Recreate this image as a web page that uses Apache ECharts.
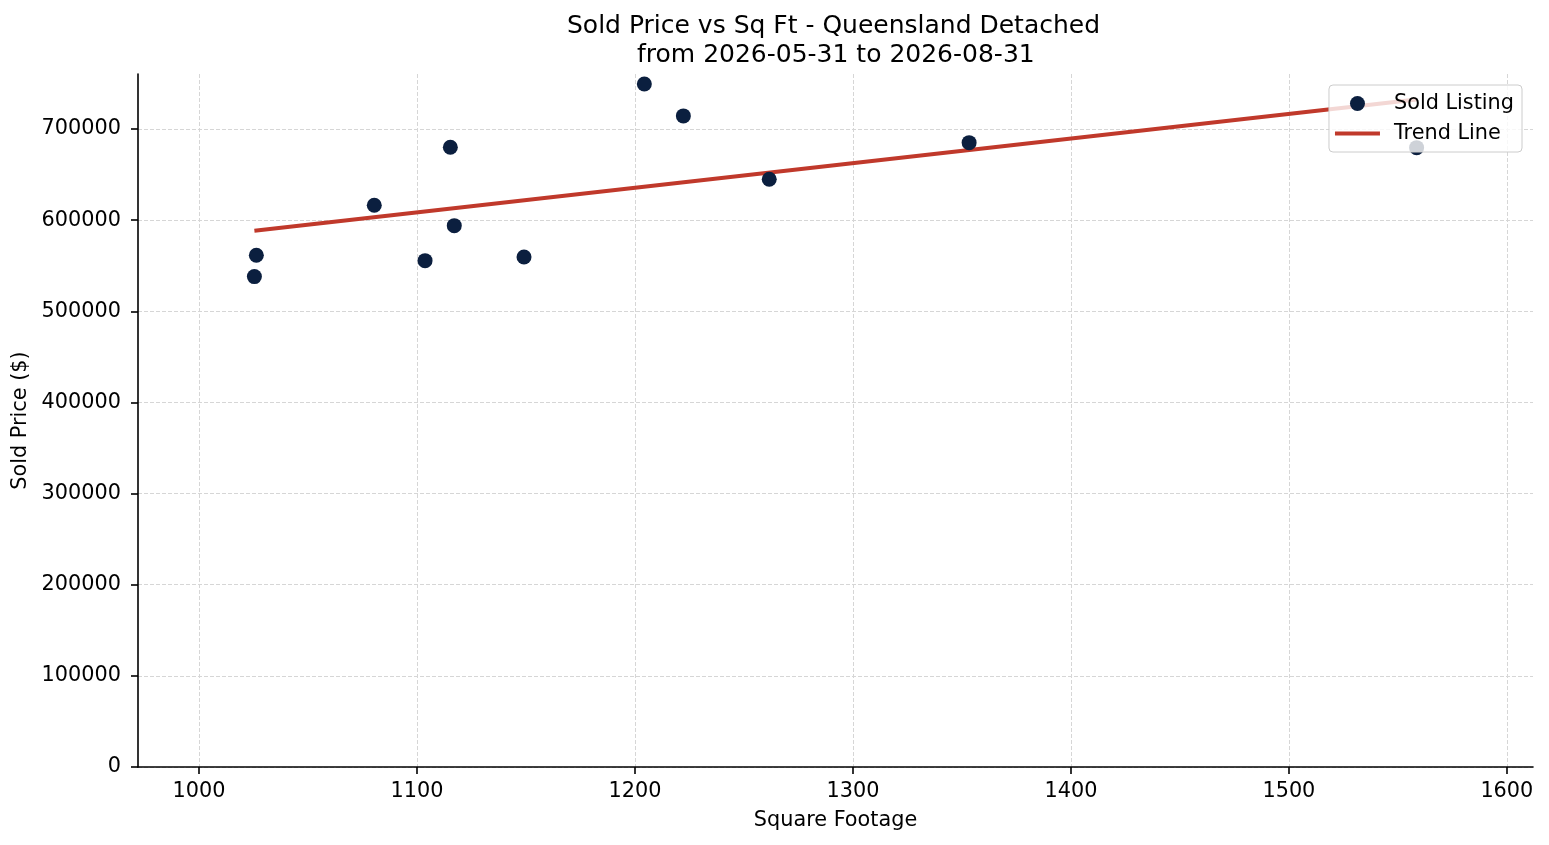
<!DOCTYPE html>
<html>
<head>
<meta charset="utf-8">
<script src="https://cdn.jsdelivr.net/npm/echarts@6/dist/echarts.min.js"></script>
<style>
html,body{margin:0;padding:0;background:#fff;}
#chart{width:1549px;height:845px;}
</style>
</head>
<body>
<div id="chart"></div>
<script>
// ---- data ----
const sqft  = [1025.4, 1026.3, 1080.4, 1103.7, 1115.3, 1117.1, 1149.1, 1204.3, 1222.2, 1261.6, 1353.3, 1558.6];
const price = [538000, 561400, 616300, 555500, 679900, 593900, 559600, 749400, 714300, 644800, 685000, 679500];
const trendX = [1025.4, 1558.6];
const trendY = [588400, 732400];
const xTicks = [1000, 1100, 1200, 1300, 1400, 1500, 1600];
const yTicks = [0, 100000, 200000, 300000, 400000, 500000, 600000, 700000];
const titleLine1 = 'Sold Price vs Sq Ft - Queensland Detached';
const titleLine2 = 'from 2026-05-31 to 2026-08-31';

const FONT = 'DejaVu Sans';
const scatterData = sqft.map((x, i) => [x, price[i]]);
const trendData = trendX.map((x, i) => [x, trendY[i]]);
const plain = v => String(v);
const titleStyle = {fontFamily: FONT, fontSize: 25, fontWeight: 'normal', color: '#000', lineHeight: 29};

const chart = echarts.init(document.getElementById('chart'), null, {renderer: 'canvas'});
chart.setOption({
  animation: false,
  backgroundColor: '#ffffff',
  textStyle: {fontFamily: FONT},
  title: [
    {text: titleLine1, left: 567, top: 12, padding: 0, textStyle: titleStyle},
    {text: titleLine2, left: 637, top: 41, padding: 0, textStyle: titleStyle}
  ],
  grid: {left: 138, right: 16, top: 74, bottom: 78, containLabel: false, outerBoundsMode: 'none'},
  legend: {
    orient: 'vertical',
    right: 27,
    top: 85,
    padding: [8, 8, 8, 6],
    itemGap: 9,
    itemWidth: 45,
    itemHeight: 15,
    backgroundColor: 'rgba(255,255,255,0.8)',
    borderColor: '#cccccc',
    borderWidth: 1,
    borderRadius: 4,
    textStyle: {fontFamily: FONT, fontSize: 20.8, color: '#000', padding: [0, 0, 0, 9]},
    data: [
      {name: 'Sold Listing', icon: 'circle'},
      {name: 'Trend Line', icon: 'path://M0,0 L45,0 L45,4 L0,4 Z'}
    ]
  },
  xAxis: {
    type: 'value',
    min: 972,
    max: 1612,
    name: 'Square Footage',
    nameLocation: 'middle',
    nameGap: 43,
    nameTextStyle: {fontFamily: FONT, fontSize: 20.8, color: '#000'},
    axisLine: {show: true, onZero: false, lineStyle: {color: '#000', width: 1.6}},
    axisTick: {show: true, inside: false, length: 7, customValues: xTicks, lineStyle: {color: '#000', width: 1.6}},
    axisLabel: {customValues: xTicks, formatter: plain, margin: 14, fontFamily: FONT, fontSize: 20.8, color: '#000'},
    splitLine: {show: true, lineStyle: {color: '#d6d6d6', width: 1, type: [4, 2]}}
  },
  yAxis: {
    type: 'value',
    min: 0,
    max: 760300,
    name: 'Sold Price ($)',
    nameLocation: 'middle',
    nameGap: 96,
    nameTextStyle: {fontFamily: FONT, fontSize: 20.8, color: '#000'},
    axisLine: {show: true, onZero: false, lineStyle: {color: '#000', width: 1.6}},
    axisTick: {show: true, inside: false, length: 7, customValues: yTicks, lineStyle: {color: '#000', width: 1.6}},
    axisLabel: {customValues: yTicks, formatter: plain, margin: 17, fontFamily: FONT, fontSize: 20.8, color: '#000'},
    splitLine: {show: true, lineStyle: {color: '#d6d6d6', width: 1, type: [4, 2]}}
  },
  series: [
    {
      name: 'Trend Line',
      type: 'line',
      data: trendData,
      symbol: 'none',
      z: 2,
      lineStyle: {color: '#c0392b', width: 4},
      itemStyle: {color: '#c0392b'}
    },
    {
      name: 'Sold Listing',
      type: 'scatter',
      data: scatterData,
      symbol: 'circle',
      symbolSize: 15,
      z: 3,
      itemStyle: {color: '#0b1f3f', opacity: 1}
    }
  ]
});
</script>
</body>
</html>
